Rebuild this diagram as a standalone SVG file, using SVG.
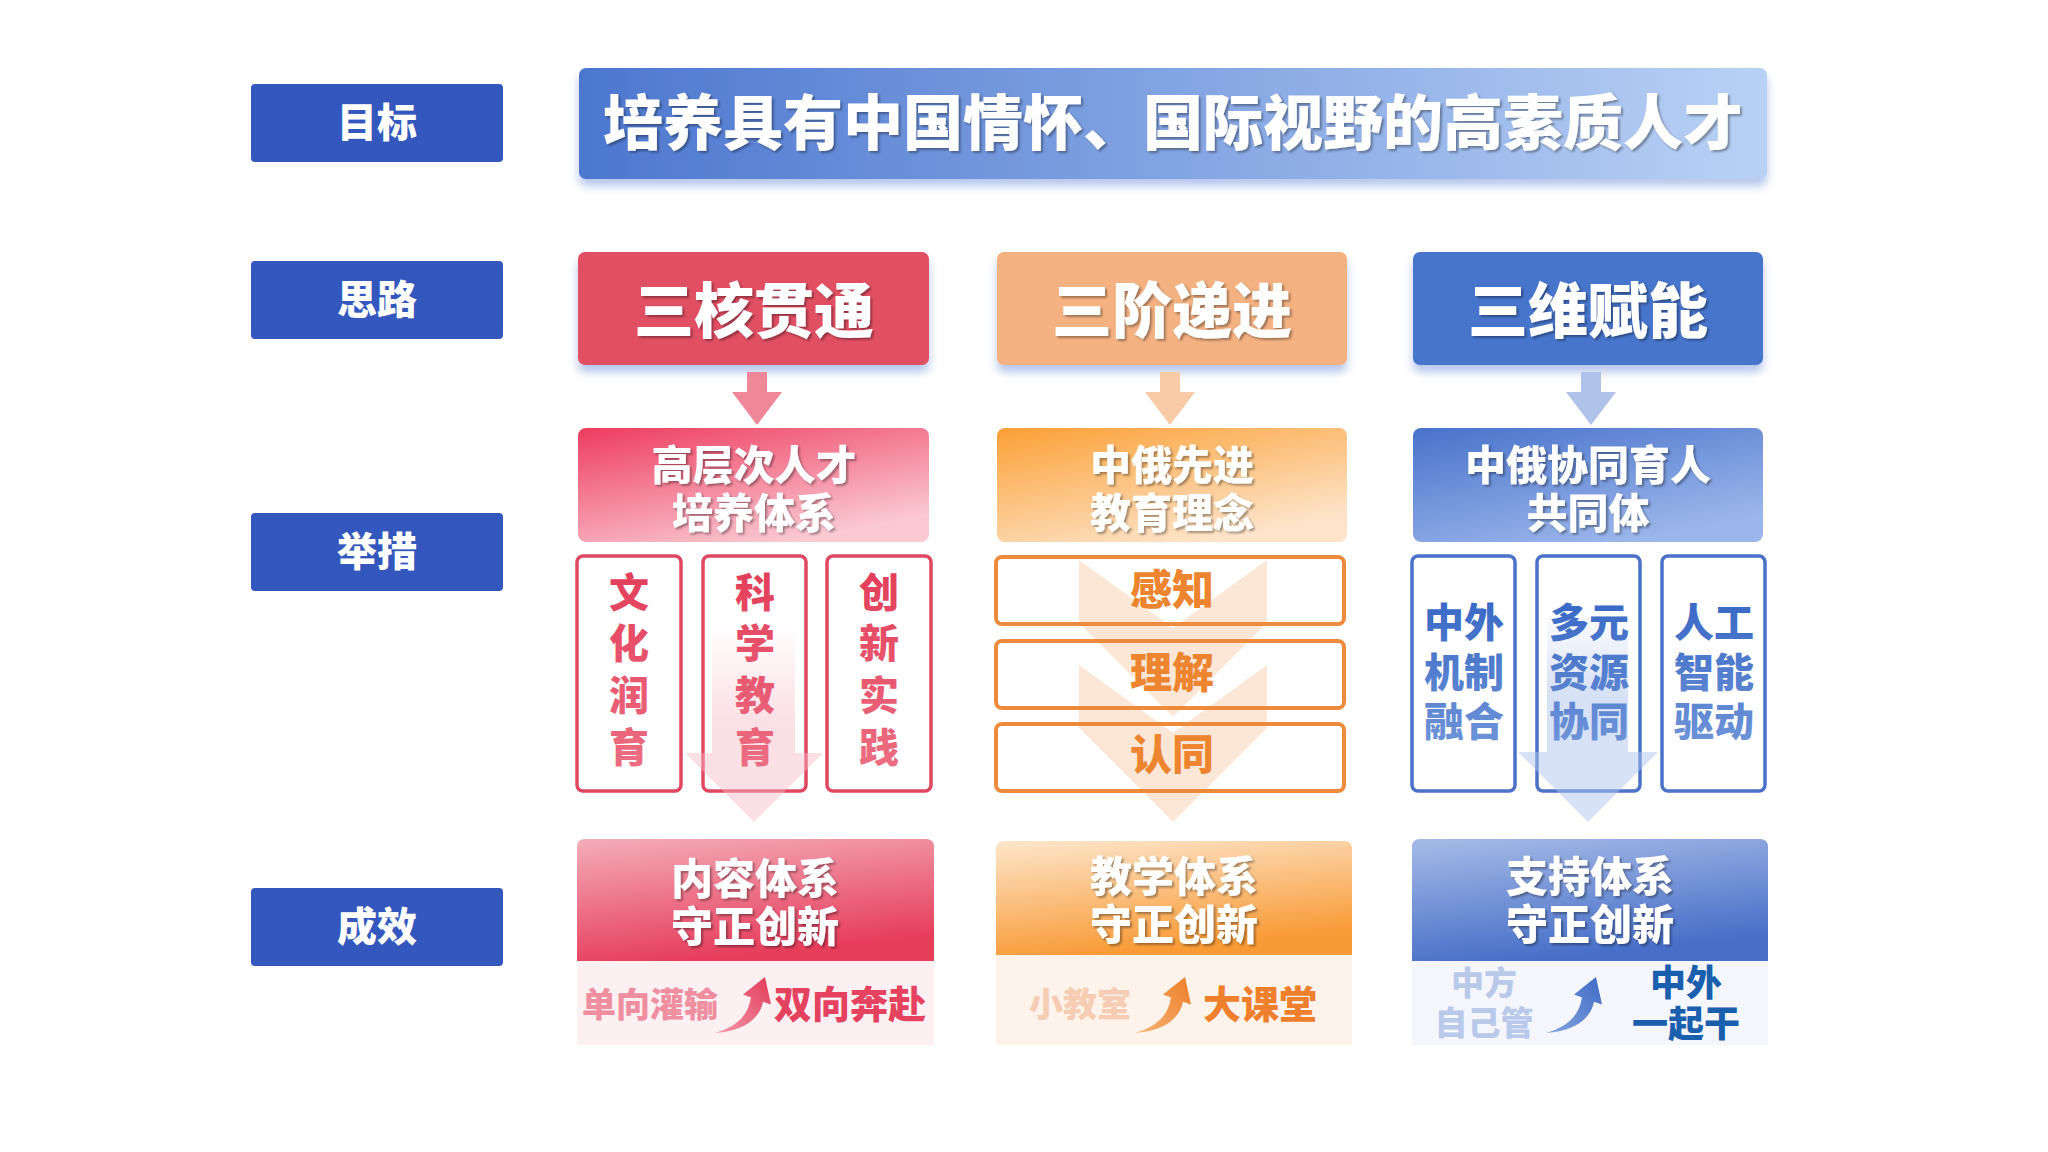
<svg xmlns="http://www.w3.org/2000/svg" width="2048" height="1152" viewBox="0 0 2048 1152">
<defs>
<style>
text{font-family:"Noto Sans CJK SC","Noto Sans",sans-serif;font-weight:900;text-anchor:middle}
.lbl{fill:#3457BD}
.lt{fill:#fff;font-size:40px}
.wt{fill:#fff;filter:url(#ts)}
.big{font-size:60px}
.mid{font-size:41px}
.res{font-size:42px}
.rbox{fill:#fff;stroke:#E04862;stroke-width:3.5}
.obox{fill:none;stroke:#EE8A3C;stroke-width:4}
.bbox{fill:#fff;stroke:#4A72C8;stroke-width:3.5}
.rt{font-size:40px;fill:url(#rtg)}
.bt{font-size:40px;fill:url(#btg)}
.ot{font-size:42px;fill:#EC8430}
</style>
<filter id="ts" x="-10%" y="-20%" width="130%" height="150%"><feDropShadow dx="2" dy="2" stdDeviation="1" flood-color="#000" flood-opacity="0.35"/></filter>
<filter id="bs" x="-5%" y="-20%" width="110%" height="150%"><feDropShadow dx="0" dy="7" stdDeviation="5" flood-color="#5C7FD0" flood-opacity="0.45"/></filter>
<linearGradient id="title" x1="0" y1="0" x2="1" y2="0"><stop offset="0" stop-color="#4C77CF"/><stop offset="1" stop-color="#B9D1F5"/></linearGradient>
<linearGradient id="m1" x1="0" y1="0" x2="0.6" y2="1"><stop offset="0" stop-color="#EE3C60"/><stop offset="1" stop-color="#FAC9D2"/></linearGradient>
<linearGradient id="m2" x1="0" y1="0" x2="0.6" y2="1"><stop offset="0" stop-color="#FBA036"/><stop offset="1" stop-color="#FDE4CA"/></linearGradient>
<linearGradient id="m3" x1="0" y1="0" x2="0.6" y2="1"><stop offset="0" stop-color="#4872CB"/><stop offset="1" stop-color="#9BB6EA"/></linearGradient>
<linearGradient id="r1" x1="0" y1="0" x2="0.3" y2="1"><stop offset="0" stop-color="#F4ADB9"/><stop offset="1" stop-color="#E63D5B"/></linearGradient>
<linearGradient id="r2" x1="0" y1="0" x2="0.3" y2="1"><stop offset="0" stop-color="#FDE6CC"/><stop offset="1" stop-color="#F89A36"/></linearGradient>
<linearGradient id="r3" x1="0" y1="0" x2="0.3" y2="1"><stop offset="0" stop-color="#A6BBE7"/><stop offset="1" stop-color="#476FC8"/></linearGradient>
<linearGradient id="rtg" x1="0" y1="0" x2="0" y2="1"><stop offset="0" stop-color="#E23C57"/><stop offset="1" stop-color="#EC6F83"/></linearGradient>
<linearGradient id="btg" x1="0" y1="0" x2="0" y2="1"><stop offset="0" stop-color="#3566C4"/><stop offset="1" stop-color="#6F94D8"/></linearGradient>
<linearGradient id="fr" x1="0" y1="0" x2="0" y2="1"><stop offset="0" stop-color="#F6B9C4" stop-opacity="0"/><stop offset="0.5" stop-color="#F6B9C4" stop-opacity="0.45"/><stop offset="1" stop-color="#F6B9C4" stop-opacity="0.45"/></linearGradient>
<linearGradient id="fb" x1="0" y1="0" x2="0" y2="1"><stop offset="0" stop-color="#AFC4EC" stop-opacity="0"/><stop offset="0.4" stop-color="#AFC4EC" stop-opacity="0.5"/><stop offset="1" stop-color="#AFC4EC" stop-opacity="0.5"/></linearGradient>
<linearGradient id="ar" x1="0" y1="1" x2="1" y2="0"><stop offset="0" stop-color="#F39AAA"/><stop offset="1" stop-color="#E33B59"/></linearGradient>
<linearGradient id="ao" x1="0" y1="1" x2="1" y2="0"><stop offset="0" stop-color="#F7B47A"/><stop offset="1" stop-color="#EE7E28"/></linearGradient>
<linearGradient id="ab" x1="0" y1="1" x2="1" y2="0"><stop offset="0" stop-color="#86A6E0"/><stop offset="1" stop-color="#3E69C4"/></linearGradient>
<path id="swoosh" d="M0,56 C20,50 33,40 36,20.5 L28,17.6 L50,0 L56,27.6 L48,24.7 C44,44 26,54 0,56 Z"/>
<path id="dn" d="M-10,0 H10 V20 H25 L0,53 L-25,20 H-10 Z"/>
</defs>
<rect width="2048" height="1152" fill="#fff"/>

<g id="labels">
<g id="label-goal"><rect class="lbl" x="251" y="84" width="252" height="78" rx="4"/><text class="lt" x="377" y="137">目标</text></g>
<g id="label-idea"><rect class="lbl" x="251" y="261" width="252" height="78" rx="4"/><text class="lt" x="377" y="314">思路</text></g>
<g id="label-measure"><rect class="lbl" x="251" y="513" width="252" height="78" rx="4"/><text class="lt" x="377" y="566">举措</text></g>
<g id="label-result"><rect class="lbl" x="251" y="888" width="252" height="78" rx="4"/><text class="lt" x="377" y="941">成效</text></g>
</g>

<g id="goal">
<rect x="579" y="68" width="1188" height="111" rx="7" fill="url(#title)" filter="url(#bs)"/>
<text class="wt big" x="1173" y="145">培养具有中国情怀、国际视野的高素质人才</text>
</g>

<g id="idea-1"><rect x="578" y="252" width="351" height="113" rx="7" fill="#E14F64" filter="url(#bs)"/><text class="wt big" x="754" y="333">三核贯通</text></g>
<g id="idea-2"><rect x="997" y="252" width="350" height="113" rx="7" fill="#F4B182" filter="url(#bs)"/><text class="wt big" x="1172" y="333">三阶递进</text></g>
<g id="idea-3"><rect x="1413" y="252" width="350" height="113" rx="7" fill="#4774CC" filter="url(#bs)"/><text class="wt big" x="1588" y="333">三维赋能</text></g>

<g id="connectors">
<use href="#dn" x="757" y="372" fill="#EE8797"/>
<use href="#dn" x="1170" y="372" fill="#F8CAA6"/>
<use href="#dn" x="1591" y="372" fill="#AEC2EA"/>
</g>

<g id="measure-1">
<rect x="578" y="428" width="351" height="114" rx="8" fill="url(#m1)"/>
<text class="wt mid"><tspan x="754" y="480">高层次人才</tspan><tspan x="754" y="528">培养体系</tspan></text>
</g>
<g id="measure-1-items">
<rect class="rbox" x="577" y="556" width="104" height="235" rx="6"/>
<rect class="rbox" x="703" y="556" width="103" height="235" rx="6"/>
<rect class="rbox" x="827" y="556" width="104" height="235" rx="6"/>
<path d="M712,622 H795 V753 H823 L754,822 L685,753 H712 Z" fill="url(#fr)"/>
<text class="rt"><tspan x="629" y="607">文</tspan><tspan x="629" y="658">化</tspan><tspan x="629" y="710">润</tspan><tspan x="629" y="762">育</tspan></text>
<text class="rt"><tspan x="755" y="607">科</tspan><tspan x="755" y="658">学</tspan><tspan x="755" y="710">教</tspan><tspan x="755" y="762">育</tspan></text>
<text class="rt"><tspan x="879" y="607">创</tspan><tspan x="879" y="658">新</tspan><tspan x="879" y="710">实</tspan><tspan x="879" y="762">践</tspan></text>
</g>

<g id="measure-2">
<rect x="997" y="428" width="350" height="114" rx="8" fill="url(#m2)"/>
<text class="wt mid"><tspan x="1172" y="480">中俄先进</tspan><tspan x="1172" y="528">教育理念</tspan></text>
</g>
<g id="measure-2-items">
<g fill="#F9C7A3" fill-opacity="0.45">
<path d="M1079,560 L1173,628 L1267,560 V623 L1173,717 L1079,623 Z"/>
<path d="M1079,665 L1173,733 L1267,665 V728 L1173,822 L1079,728 Z"/>
</g>
<rect class="obox" x="996" y="557" width="348" height="67" rx="6"/>
<rect class="obox" x="996" y="641" width="348" height="67" rx="6"/>
<rect class="obox" x="996" y="724" width="348" height="67" rx="6"/>
<text class="ot" x="1172" y="605">感知</text>
<text class="ot" x="1172" y="688">理解</text>
<text class="ot" x="1172" y="770">认同</text>
</g>

<g id="measure-3">
<rect x="1413" y="428" width="350" height="114" rx="8" fill="url(#m3)"/>
<text class="wt mid"><tspan x="1588" y="480">中俄协同育人</tspan><tspan x="1588" y="528">共同体</tspan></text>
</g>
<g id="measure-3-items">
<rect class="bbox" x="1412" y="556" width="103" height="235" rx="6"/>
<rect class="bbox" x="1537" y="556" width="103" height="235" rx="6"/>
<rect class="bbox" x="1662" y="556" width="103" height="235" rx="6"/>
<path d="M1547,607 H1628 V752 H1658 L1588,822 L1518,752 H1547 Z" fill="url(#fb)"/>
<text class="bt"><tspan x="1464" y="637">中外</tspan><tspan x="1464" y="687">机制</tspan><tspan x="1464" y="736">融合</tspan></text>
<text class="bt"><tspan x="1589" y="637">多元</tspan><tspan x="1589" y="687">资源</tspan><tspan x="1589" y="736">协同</tspan></text>
<text class="bt"><tspan x="1714" y="637">人工</tspan><tspan x="1714" y="687">智能</tspan><tspan x="1714" y="736">驱动</tspan></text>
</g>

<g id="result-1">
<path d="M577,961 V847 Q577,839 585,839 H926 Q934,839 934,847 V961 Z" fill="url(#r1)"/>
<rect x="577" y="961" width="357" height="84" fill="#FDF0F2"/>
<text class="wt res"><tspan x="755" y="894">内容体系</tspan><tspan x="755" y="942">守正创新</tspan></text>
<text x="650" y="1017" font-size="34" fill="#EE8E9F">单向灌输</text>
<use href="#swoosh" x="715" y="977" fill="url(#ar)"/>
<text x="850" y="1018" font-size="38" fill="#E4425E">双向奔赴</text>
</g>

<g id="result-2">
<path d="M996,955 V849 Q996,841 1004,841 H1344 Q1352,841 1352,849 V955 Z" fill="url(#r2)"/>
<rect x="996" y="955" width="356" height="90" fill="#FEF3EA"/>
<text class="wt res"><tspan x="1174" y="892">教学体系</tspan><tspan x="1174" y="940">守正创新</tspan></text>
<text x="1080" y="1017" font-size="34" fill="#F6CDB3">小教室</text>
<use href="#swoosh" x="1135" y="977" fill="url(#ao)"/>
<text x="1260" y="1018" font-size="38" fill="#EE7F2C">大课堂</text>
</g>

<g id="result-3">
<path d="M1412,961 V847 Q1412,839 1420,839 H1760 Q1768,839 1768,847 V961 Z" fill="url(#r3)"/>
<rect x="1412" y="961" width="356" height="84" fill="#F4F6FC"/>
<text class="wt res"><tspan x="1590" y="892">支持体系</tspan><tspan x="1590" y="940">守正创新</tspan></text>
<text font-size="33" fill="#B9C9EA"><tspan x="1484" y="995">中方</tspan><tspan x="1484" y="1035">自己管</tspan></text>
<use href="#swoosh" x="1546" y="977" fill="url(#ab)"/>
<text font-size="36" fill="#1A5FAE"><tspan x="1686" y="996">中外</tspan><tspan x="1686" y="1037">一起干</tspan></text>
</g>
</svg>
